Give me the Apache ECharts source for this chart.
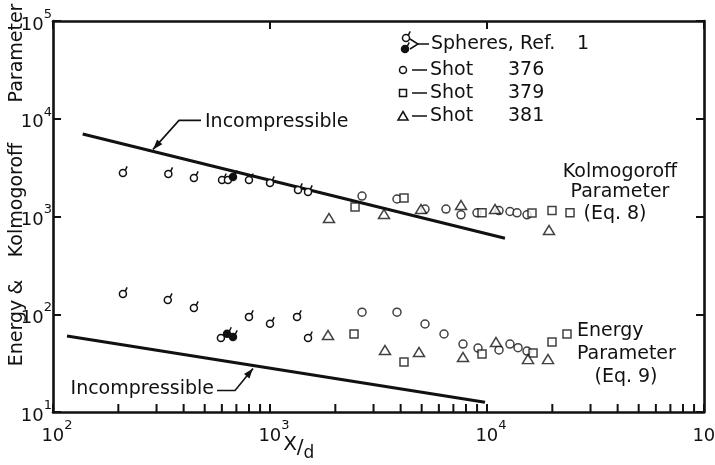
<!DOCTYPE html>
<html>
<head>
<meta charset="utf-8">
<script src="https://cdn.jsdelivr.net/npm/echarts@6/dist/echarts.min.js"></script>
<style>
  html, body { margin: 0; padding: 0; background: #fff; }
  #chart { width: 715px; height: 465px; }
</style>
</head>
<body>
<div id="chart"></div>
<script>
const FONT = 'DejaVu Sans';
const INK = '#111';

// Axis ticks (log scales, decades plus 2..9 minors along x)
const xMajorTicks = [100, 1000, 10000, 100000];
const xMinorTicks = [200, 300, 400, 500, 600, 700, 800, 900,
                     2000, 3000, 4000, 5000, 6000, 7000, 8000, 9000,
                     20000, 30000, 40000, 50000, 60000, 70000, 80000, 90000];
const yMajorTicks = [10, 100, 1000, 10000, 100000];

// Spheres, Ref. 1 — open symbols
const sphereKolX = [210, 340, 446, 601, 640, 800, 1000, 1346, 1497];
const sphereKolY = [2790, 2720, 2480, 2360, 2360, 2360, 2200, 1870, 1780];
const sphereEnX  = [210, 338, 446, 594, 800, 1000, 1332, 1497];
const sphereEnY  = [161, 140, 116, 57, 94, 80, 94, 57];
// Spheres, Ref. 1 — solid symbols
const sphereSolidKolX = [675];
const sphereSolidKolY = [2540];
const sphereSolidEnX  = [634, 675];
const sphereSolidEnY  = [63, 58.5];

// Shot 376 (circles)
const shot376KolX = [2655, 3848, 5180, 6470, 7590, 8993, 11360, 12760, 13750, 15290];
const shot376KolY = [1620, 1510, 1190, 1190, 1040, 1090, 1150, 1125, 1090, 1040];
const shot376EnX  = [2655, 3848, 5180, 6337, 7752, 9089, 11360, 12760, 13900, 15290];
const shot376EnY  = [105, 105, 79.5, 62.8, 49.6, 45.1, 43.1, 49.6, 45.5, 42];

// Shot 379 (squares)
const shot379KolX = [2465, 4145, 9485, 16120, 19930, 24130];
const shot379KolY = [1250, 1546, 1094, 1086, 1150, 1094];
const shot379EnX  = [2439, 4145, 9485, 16300, 19930, 23370];
const shot379EnY  = [62.8, 32.5, 39.2, 40.1, 52, 62.8];

// Shot 381 (triangles)
const shot381KolX = [1870, 3352, 4966, 7590, 10890, 19310];
const shot381KolY = [965, 1061, 1193, 1311, 1193, 728];
const shot381EnX  = [1851, 3388, 4860, 7752, 11000, 15450, 19100];
const shot381EnY  = [61.3, 43.1, 41.1, 36.5, 52, 34.8, 34.8];

// Incompressible reference lines
const incompKolX = [137, 12100];
const incompKolY = [6980, 598];
const incompEnX  = [116, 9790];
const incompEnY  = [59.9, 12.6];

const zip = (xs, ys) => xs.map((x, i) => [x, ys[i]]);

const chart = echarts.init(document.getElementById('chart'));

const labelRich = {
  p: { width: 8 },
  b: { fontSize: 18, fontFamily: FONT, color: INK, lineHeight: 26, verticalAlign: 'bottom' },
  s: { fontSize: 13, fontFamily: FONT, color: INK, lineHeight: 14, verticalAlign: 'top' }
};
const expOf = v => Math.round(Math.log10(v));

const frameLine = { show: true, onZero: false, lineStyle: { color: INK, width: 2.6 } };
const TICK = 8;
const majorTick = { show: true, inside: true, length: TICK, lineStyle: { color: INK, width: 2 } };

function sphereRenderer(solid) {
  return function (params, api) {
    const p = api.coord([api.value(0), api.value(1)]);
    return {
      type: 'group',
      children: [
        { type: 'line', shape: { x1: p[0] + 2.3, y1: p[1] - 2.6, x2: p[0] + 4.2, y2: p[1] - 6.6 },
          style: { stroke: INK, lineWidth: 1.5 } },
        { type: 'circle', shape: { cx: p[0], cy: p[1], r: 3.5 },
          style: { fill: solid ? INK : '#fff', stroke: INK, lineWidth: 1.5 } }
      ]
    };
  };
}

// Minor tick marks standing on the bottom frame
function minorTickRenderer(params, api) {
  const cs = params.coordSys;
  const x = api.coord([api.value(0), api.value(1)])[0];
  const bottom = cs.y + cs.height;
  return { type: 'line', shape: { x1: x, y1: bottom, x2: x, y2: bottom - TICK },
           style: { stroke: INK, lineWidth: 2 } };
}

const openSymbol = { color: '#fff', borderColor: INK, borderWidth: 1.5 };

chart.setOption({
  animation: false,
  grid: { left: 53, right: 11, top: 21, bottom: 53, outerBoundsMode: 'none' },
  xAxis: [
    {
      type: 'log', logBase: 10, min: 100, max: 100000, position: 'bottom',
      axisLine: frameLine,
      axisTick: majorTick,
      axisLabel: { show: true, margin: 7, hideOverlap: false,
                   formatter: v => `{p|}{b|10}{s|${expOf(v)}}`, rich: labelRich },
      splitLine: { show: false }
    },
    {
      type: 'log', logBase: 10, min: 100, max: 100000, position: 'top',
      axisLine: frameLine,
      axisTick: majorTick,
      axisLabel: { show: false },
      splitLine: { show: false }
    }
  ],
  yAxis: [
    {
      type: 'log', logBase: 10, min: 10, max: 100000, position: 'left',
      axisLine: frameLine,
      axisTick: majorTick,
      axisLabel: { show: true, margin: 1, hideOverlap: false,
                   formatter: v => `{b|10}{s|${expOf(v)}}`, rich: labelRich },
      splitLine: { show: false }
    },
    {
      type: 'log', logBase: 10, min: 10, max: 100000, position: 'right',
      axisLine: frameLine,
      axisTick: majorTick,
      axisLabel: { show: false },
      splitLine: { show: false }
    }
  ],
  series: [
    { name: 'x minor ticks', type: 'custom', renderItem: minorTickRenderer, clip: false,
      encode: { x: 0, y: 1 }, z: 10, data: xMinorTicks.map(v => [v, 1000]) },
    { name: 'Incompressible (Kolmogoroff)', type: 'line', data: zip(incompKolX, incompKolY),
      showSymbol: false, symbol: 'none', lineStyle: { color: INK, width: 3 }, z: 2 },
    { name: 'Incompressible (Energy)', type: 'line', data: zip(incompEnX, incompEnY),
      showSymbol: false, symbol: 'none', lineStyle: { color: INK, width: 3 }, z: 2 },
    { name: 'Shot 376', type: 'scatter', symbol: 'circle', symbolSize: 8,
      data: zip(shot376KolX, shot376KolY).concat(zip(shot376EnX, shot376EnY)),
      itemStyle: openSymbol, z: 3 },
    { name: 'Shot 379', type: 'scatter', symbol: 'rect', symbolSize: 8,
      data: zip(shot379KolX, shot379KolY).concat(zip(shot379EnX, shot379EnY)),
      itemStyle: openSymbol, z: 3 },
    { name: 'Shot 381', type: 'scatter', symbol: 'triangle', symbolSize: [11, 9],
      data: zip(shot381KolX, shot381KolY).concat(zip(shot381EnX, shot381EnY)),
      itemStyle: openSymbol, z: 3 },
    { name: 'Spheres, Ref. 1', type: 'custom', renderItem: sphereRenderer(false),
      encode: { x: 0, y: 1 },
      data: zip(sphereKolX, sphereKolY).concat(zip(sphereEnX, sphereEnY)), z: 3 },
    { name: 'Spheres, Ref. 1 (solid)', type: 'custom', renderItem: sphereRenderer(true),
      encode: { x: 0, y: 1 },
      data: zip(sphereSolidKolX, sphereSolidKolY).concat(zip(sphereSolidEnX, sphereSolidEnY)), z: 4 }
  ]
});

// ---- annotations, legend and axis titles ----
const toPx = (x, y) => chart.convertToPixel({ xAxisIndex: 0, yAxisIndex: 0 }, [x, y]);
const graphics = [];
const stroke = (pts, w) => ({ type: 'polyline', shape: { points: pts },
  style: { stroke: INK, lineWidth: w || 1.6, fill: null }, z: 10 });

function lineValueAt(xs, ys, x) {
  const lx0 = Math.log10(xs[0]), lx1 = Math.log10(xs[1]);
  const ly0 = Math.log10(ys[0]), ly1 = Math.log10(ys[1]);
  const t = (Math.log10(x) - lx0) / (lx1 - lx0);
  return Math.pow(10, ly0 + t * (ly1 - ly0));
}
function arrowHead(from, tip, len, half) {
  const dx = tip[0] - from[0], dy = tip[1] - from[1];
  const d = Math.hypot(dx, dy), ux = dx / d, uy = dy / d;
  const bx = tip[0] - ux * len, by = tip[1] - uy * len;
  return { type: 'polygon', shape: { points: [tip, [bx - uy * half, by + ux * half], [bx + uy * half, by - ux * half]] },
           style: { fill: INK }, z: 10 };
}
function txt(text, x, y, align, size, extra) {
  return Object.assign({
    type: 'text', x: x, y: y, z: 10,
    style: { text: text, x: 0, y: 0, fill: INK, fontFamily: FONT, fontSize: size || 19,
             align: align || 'left', verticalAlign: 'middle',
             textAlign: align || 'left', textVerticalAlign: 'middle' }
  }, extra || {});
}

// upper "Incompressible" pointer
const upX = 289;
const upTip = toPx(upX, lineValueAt(incompKolX, incompKolY, upX));
upTip[1] -= 2;
const upBend = [upTip[0] + 26, upTip[1] - 29];
const upStart = [upTip[0] + 48, upTip[1] - 29];
graphics.push(stroke([upStart, upBend, upTip]));
graphics.push(arrowHead(upBend, upTip, 10, 3.5));
graphics.push(txt('Incompressible', upStart[0] + 4, upStart[1] + 1.5));

// lower "Incompressible" pointer
const loX = 835;
const loTip = toPx(loX, lineValueAt(incompEnX, incompEnY, loX));
loTip[1] += 3;
const loBend = [loTip[0] - 18, loTip[1] + 22];
const loStart = [loTip[0] - 36, loTip[1] + 22];
graphics.push(stroke([loStart, loBend, loTip]));
graphics.push(arrowHead(loBend, loTip, 10, 3.5));
graphics.push(txt('Incompressible', loStart[0] - 3, loStart[1] - 1, 'right'));

// group labels on the right
graphics.push(txt('Kolmogoroff', 620, 172, 'center'));
graphics.push(txt('Parameter', 620, 192, 'center'));
graphics.push(txt('(Eq. 8)', 615, 214, 'center'));
graphics.push(txt('Energy', 577, 331));
graphics.push(txt('Parameter', 577, 354));
graphics.push(txt('(Eq. 9)', 626, 377, 'center'));

// legend
function sphereGlyph(cx, cy, solid) {
  return [
    { type: 'line', shape: { x1: cx + 2.3, y1: cy - 2.6, x2: cx + 4.2, y2: cy - 6.6 }, style: { stroke: INK, lineWidth: 1.5 }, z: 10 },
    { type: 'circle', shape: { cx: cx, cy: cy, r: 3.5 }, style: { fill: solid ? INK : '#fff', stroke: INK, lineWidth: 1.5 }, z: 10 }
  ];
}
graphics.push(...sphereGlyph(406, 38, false));
graphics.push(...sphereGlyph(405, 49, true));
graphics.push(stroke([[410, 39], [418, 44], [410, 49]], 1.5));
graphics.push(stroke([[418, 44], [429, 44]], 1.5));
graphics.push(txt('Spheres, Ref.', 431, 44));
graphics.push(txt('1', 577, 44));

const legendRows = [
  { y: 70, label: '376', glyph: 'circle' },
  { y: 93, label: '379', glyph: 'square' },
  { y: 116, label: '381', glyph: 'triangle' }
];
legendRows.forEach(r => {
  const cx = 403;
  if (r.glyph === 'circle') {
    graphics.push({ type: 'circle', shape: { cx: cx, cy: r.y, r: 3.5 }, style: { fill: '#fff', stroke: INK, lineWidth: 1.5 }, z: 10 });
  } else if (r.glyph === 'square') {
    graphics.push({ type: 'rect', shape: { x: cx - 3.5, y: r.y - 3.5, width: 7, height: 7 }, style: { fill: '#fff', stroke: INK, lineWidth: 1.5 }, z: 10 });
  } else {
    graphics.push({ type: 'polygon', shape: { points: [[cx, r.y - 4.5], [cx + 5, r.y + 4], [cx - 5, r.y + 4]] }, style: { fill: '#fff', stroke: INK, lineWidth: 1.5 }, z: 10 });
  }
  graphics.push(stroke([[412, r.y], [427, r.y]], 1.5));
  graphics.push(txt('Shot', 430, r.y));
  graphics.push(txt(r.label, 508, r.y));
});

// axis titles
graphics.push(txt('Parameter', 17, 53, 'center', 19, { rotation: Math.PI / 2 }));
graphics.push(txt('Kolmogoroff', 17, 200, 'center', 19, { rotation: Math.PI / 2 }));
graphics.push(txt('&', 17, 287, 'center', 19, { rotation: Math.PI / 2 }));
graphics.push(txt('Energy', 17, 333, 'center', 19, { rotation: Math.PI / 2 }));

graphics.push(txt('X', 290, 445, 'center', 20));
graphics.push(txt('/', 300, 448, 'center', 20));
graphics.push(txt('d', 309, 454, 'center', 17));

chart.setOption({ graphic: { elements: graphics } });
</script>
</body>
</html>
